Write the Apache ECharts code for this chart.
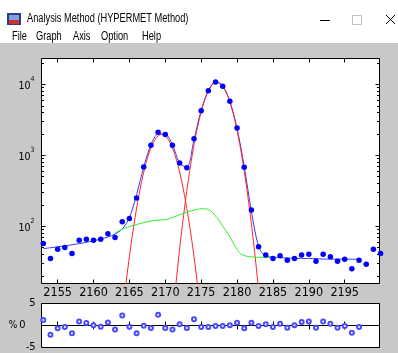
<!DOCTYPE html>
<html><head><meta charset="utf-8">
<script src="https://cdn.jsdelivr.net/npm/echarts@6/dist/echarts.min.js"></script>
<style>html,body{margin:0;padding:0;background:#fff}#c{width:398px;height:353px}</style>
</head><body><div id="c"></div>
<script>
// ---- data ----
const channels = [2153,2154,2155,2156,2157,2158,2159,2160,2161,2162,2163,2164,2165,2166,2167,2168,2169,2170,2171,2172,2173,2174,2175,2176,2177,2178,2179,2180,2181,2182,2183,2184,2185,2186,2187,2188,2189,2190,2191,2192,2193,2194,2195,2196,2197,2198,2199,2200];
const counts = [57,35,47,50,41,63,65,63,65,78,69,115,128,249,682,1374,2094,1945,1374,776,661,1706,4236,8090,10740,9310,5730,2415,673,169,51,39,35,38,33,35,39,40,32,40,37,32,34,25,33,29,47,41];

const fitChannels = [2153,2154,2155,2156,2157,2158,2159,2160,2161,2162,2163,2164,2165,2166,2167,2168,2169,2170,2171,2172,2173,2174,2175,2176,2177,2178,2179,2180,2181,2182,2183,2184,2185,2186,2187,2188,2189,2190,2191,2192,2193,2194,2195,2196,2197];
const fitTotal = [48,49.5,51,52.5,54.5,56.5,59,62,65.5,70,77,91,131,277,684,1395,1981,1970,1408,768,675,1648,4259,8121,10755,9324,5725,2384,689,161,52,37.3,36.6,35.9,35.5,35.2,35.0,34.9,34.8,34.2,34.2,34.2,34.1,34.1,34.1];

const peak1Channels = [2163.5,2164,2164.5,2165,2165.5,2166,2166.5,2167,2167.5,2168,2168.5,2169,2169.5,2170,2170.5,2171,2171.5,2172,2172.5,2173,2173.5,2174,2174.5,2175,2175.5];
const peak1 = [1.7,5.2,14.6,37.1,85.1,177,335,574,891,1256,1603,1857,1950,1857,1603,1256,891,574,335,177,85.1,37.1,14.6,5.2,1.7];

const peak2Channels = [2171.2,2171.7,2172.2,2172.7,2173.2,2173.7,2174.2,2174.7,2175.2,2175.7,2176.2,2176.7,2177.2,2177.7,2178.2,2178.7,2179.2,2179.7,2180.2,2180.7,2181.2,2181.7,2182.2,2182.7,2183.2];
const peak2 = [7.9,25.0,71.6,185.5,434.5,921,1766,3064,4808,6828,8770,10192,10715,10192,8770,6828,4808,3064,1766,921,434.5,185.5,71.6,25.0,7.9];

const bgChannels = [2163,2164,2165,2166,2167,2168,2169,2170,2171,2172,2173,2174,2174.5,2175,2175.5,2176,2176.5,2177,2177.5,2178,2178.5,2179,2179.5,2180,2180.5,2181,2182,2183,2184,2185];
const background = [80,90,98,105,112,118,121,123,132,144,157,168,172,175,175,170,158,138,120,100,84,70,57,47,41,38.5,36.7,36.3,36.1,36];

const residChannels = [2153,2154,2155,2156,2157,2158,2159,2160,2161,2162,2163,2164,2165,2166,2167,2168,2169,2170,2171,2172,2173,2174,2175,2176,2177,2178,2179,2180,2181,2182,2183,2184,2185,2186,2187,2188,2189,2190,2191,2192,2193,2194,2195,2196,2197];
const residuals = [1.27,-2.1,-0.63,-0.35,-1.76,0.91,0.56,0.07,-0.28,0.7,-0.91,2.25,-0.28,-1.76,-0.07,-0.56,2.46,-0.56,-0.91,0.28,-0.56,1.41,-0.35,-0.35,-0.14,-0.14,0.07,0.63,-0.63,0.63,-0.14,0.28,-0.35,0.42,-0.49,0.07,0.77,0.91,-0.49,0.91,0.42,-0.49,-0.14,-1.62,-0.35];

const xTicks = [2155,2160,2165,2170,2175,2180,2185,2190,2195];
const yTicks = [100,1000,10000];
const residTicks = [-5,0,5];
const menuItems = ['File','Graph','Axis','Option','Help'];
const windowTitle = 'Analysis Method (HYPERMET Method)';

// ---- chart ----
const X_MIN = 2152.75, X_MAX = 2199.85, Y_MIN = 15.5, Y_MAX = 23000;
const minorTicks = [];
for (let e = 1; e <= 4; e++) for (let k = 2; k <= 9; k++) {
  const v = k * Math.pow(10, e);
  if (v > Y_MIN && v < Y_MAX) minorTicks.push(v);
}
const pairs = (xs, ys) => xs.map((x, i) => [x, ys[i]]);
const axisFont = "'Liberation Sans Narrow','Arial Narrow','DejaVu Sans Condensed',sans-serif";
const uiFont = "'Liberation Sans', Arial, sans-serif";

const chart = echarts.init(document.getElementById('c'), null, {renderer: 'canvas'});

const baseX = (grid, pos, labels) => ({
  type: 'value', gridIndex: grid, position: pos, min: X_MIN, max: X_MAX,
  axisLine: {show: false}, splitLine: {show: false},
  axisTick: {show: true, inside: true, length: 4, customValues: xTicks, lineStyle: {color: '#000'}},
  axisLabel: labels ? {show: true, customValues: xTicks, color: '#000', fontSize: 12.5, fontFamily: axisFont, margin: 3,
                       formatter: v => String(v)} : {show: false}
});

const menuX = [12, 36, 73, 101, 142];
const menuGraphics = menuItems.map((m, i) => ({
  type: 'text', x: menuX[i], y: 37, scaleX: 0.74,
  style: {text: m, font: '12.5px ' + uiFont, fill: '#000', verticalAlign: 'middle'}
}));

chart.setOption({
  animation: false,
  backgroundColor: '#c8c8c8',
  graphic: [
    {type: 'rect', shape: {x: 0, y: 0, width: 398, height: 43}, style: {fill: '#ffffff'}},
    {type: 'rect', shape: {x: 7, y: 13, width: 14, height: 12}, style: {fill: '#2a3c8c'}},
    {type: 'rect', shape: {x: 9, y: 15, width: 10, height: 5}, style: {fill: '#7da0e0'}},
    {type: 'rect', shape: {x: 9, y: 20, width: 10, height: 4}, style: {fill: '#d03030'}},
    {type: 'text', x: 27, y: 19, scaleX: 0.74, style: {text: windowTitle, font: '12.5px ' + uiFont, fill: '#000', verticalAlign: 'middle'}},
    {type: 'line', shape: {x1: 320, y1: 20.5, x2: 330, y2: 20.5}, style: {stroke: '#000', lineWidth: 1}},
    {type: 'rect', shape: {x: 352.5, y: 15.5, width: 9, height: 9}, style: {fill: 'none', stroke: '#c0c0c0', lineWidth: 1}},
    {type: 'line', shape: {x1: 386, y1: 15, x2: 395, y2: 24}, style: {stroke: '#000', lineWidth: 1}},
    {type: 'line', shape: {x1: 395, y1: 15, x2: 386, y2: 24}, style: {stroke: '#000', lineWidth: 1}}
  ].concat(menuGraphics),
  grid: [
    {left: 41.5, top: 58.5, width: 338, height: 225, show: true, backgroundColor: '#fff', borderColor: '#000', borderWidth: 1},
    {left: 41.5, top: 303.5, width: 338, height: 47, show: true, backgroundColor: '#fff', borderColor: '#000', borderWidth: 1}
  ],
  xAxis: [baseX(0, 'bottom', true), baseX(0, 'top', false), baseX(1, 'bottom', false), baseX(1, 'top', false)],
  yAxis: [
    {type: 'log', gridIndex: 0, position: 'left', min: Y_MIN, max: Y_MAX, logBase: 10,
     axisLine: {show: false}, splitLine: {show: false},
     axisTick: {show: true, inside: true, length: 4, customValues: yTicks, lineStyle: {color: '#000'}},
     axisLabel: {show: true, customValues: yTicks, margin: 7,
       formatter: v => '{b|10}{s|' + Math.round(Math.log10(v)) + '}',
       rich: {b: {fontSize: 10.5, fontFamily: axisFont, color: '#000', lineHeight: 16, verticalAlign: 'bottom'},
              s: {fontSize: 7, fontFamily: axisFont, color: '#000', lineHeight: 16, verticalAlign: 'top'}}}},
    {type: 'log', gridIndex: 0, position: 'right', min: Y_MIN, max: Y_MAX, logBase: 10,
     axisLine: {show: false}, splitLine: {show: false},
     axisTick: {show: true, inside: true, length: 4, customValues: yTicks, lineStyle: {color: '#000'}},
     axisLabel: {show: false}},
    {type: 'value', gridIndex: 1, position: 'left', min: -5, max: 5,
     axisLine: {show: false}, splitLine: {show: false},
     axisTick: {show: true, inside: true, length: 4, customValues: residTicks, lineStyle: {color: '#000'}},
     axisLabel: {show: true, customValues: residTicks, margin: 6, color: '#000', fontSize: 11, fontFamily: axisFont,
       formatter: v => v === 0 ? '{p|%}{q|0}' : String(v),
       rich: {p: {fontSize: 10, fontFamily: axisFont, color: '#000', padding: [0, 2, 0, 0]},
              q: {fontSize: 11, fontFamily: axisFont, color: '#000', padding: [0, 10, 0, 0]}}}},
    {type: 'value', gridIndex: 1, position: 'right', min: -5, max: 5,
     axisLine: {show: false}, splitLine: {show: false},
     axisTick: {show: true, inside: true, length: 4, customValues: residTicks, lineStyle: {color: '#000'}},
     axisLabel: {show: false}}
  ],
  series: [
    {type: 'custom', xAxisIndex: 0, yAxisIndex: 0, silent: true, clip: false, z: 1,
     data: minorTicks.map(v => [X_MIN, v]),
     renderItem: (params, api) => {
       const cs = params.coordSys;
       const y = Math.round(api.coord([X_MIN, api.value(1)])[1]) + 0.5;
       return {type: 'group', children: [
         {type: 'line', shape: {x1: cs.x, y1: y, x2: cs.x + 2.5, y2: y}, style: {stroke: '#000', lineWidth: 1}},
         {type: 'line', shape: {x1: cs.x + cs.width - 2.5, y1: y, x2: cs.x + cs.width, y2: y}, style: {stroke: '#000', lineWidth: 1}}
       ]};
     }},
    {type: 'line', xAxisIndex: 0, yAxisIndex: 0, data: pairs(fitChannels, fitTotal), showSymbol: false, smooth: 0.3,
     lineStyle: {color: '#3a3aff', width: 1}, z: 3},
    {type: 'line', xAxisIndex: 0, yAxisIndex: 0, data: pairs(peak1Channels, peak1), showSymbol: false, smooth: true,
     lineStyle: {color: '#ff2020', width: 1}, z: 4},
    {type: 'line', xAxisIndex: 0, yAxisIndex: 0, data: pairs(peak2Channels, peak2), showSymbol: false, smooth: true,
     lineStyle: {color: '#ff2020', width: 1}, z: 4},
    {type: 'line', xAxisIndex: 0, yAxisIndex: 0, data: pairs(bgChannels, background), showSymbol: false, smooth: true,
     lineStyle: {color: '#22ee22', width: 1}, z: 4},
    {type: 'scatter', xAxisIndex: 0, yAxisIndex: 0, data: pairs(channels, counts), symbolSize: 5.5,
     itemStyle: {color: '#0000ff', opacity: 1}, z: 5, clip: false},
    {type: 'scatter', xAxisIndex: 2, yAxisIndex: 2, data: pairs(residChannels, residuals), symbol: 'emptyCircle', symbolSize: 4,
     itemStyle: {color: '#4a4aff', borderColor: '#4a4aff', borderWidth: 0.9, opacity: 1}, z: 5,
     markLine: {silent: true, symbol: 'none', label: {show: false}, lineStyle: {color: '#000', type: 'solid', width: 1},
       data: [{yAxis: 0}]}}
  ]
});
</script>
</body></html>
